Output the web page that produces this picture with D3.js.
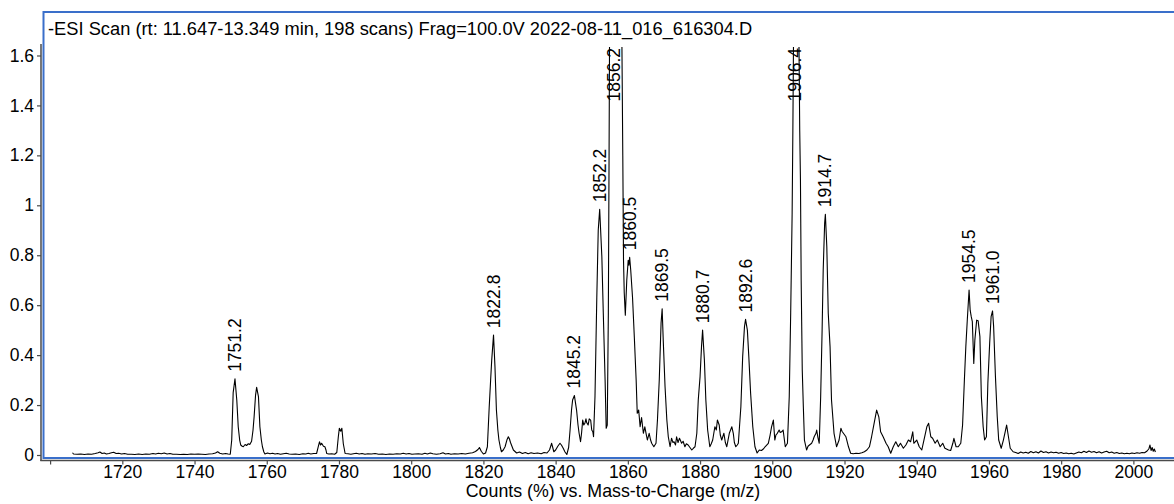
<!DOCTYPE html>
<html>
<head>
<meta charset="utf-8">
<script src="https://cdn.jsdelivr.net/npm/d3@7"></script>
<style>
  html, body { margin: 0; padding: 0; background: #fff; }
  svg { display: block; }
  text { font-family: "Liberation Sans", Arial, sans-serif; fill: #000; }
</style>
</head>
<body>
<svg id="chart" width="1174" height="504"></svg>
<script>
// Spectrum segments: [m/z, counts (x10^6 %)]
const scanLow = [
  [1706.2,0.009],[1706.5,0.004],[1707.5,0.003],[1708.5,0.004],[1709.5,0.002],[1710.5,0.004],
  [1711.5,0.003],[1712.5,0.006],[1713.3,0.009],[1713.8,0.012],[1714.4,0.006],[1715.0,0.008],
  [1715.6,0.004],[1716.3,0.006],[1717.0,0.009],[1717.6,0.011],[1718.3,0.006],[1719.0,0.007],
  [1719.8,0.004],[1720.6,0.006],[1721.5,0.003],[1722.5,0.003],[1723.5,0.002],[1724.5,0.004],
  [1725.5,0.002],[1726.5,0.004],[1727.5,0.003],[1728.5,0.006],[1729.2,0.004],[1730.0,0.007],
  [1730.8,0.005],[1731.6,0.008],[1732.4,0.004],[1733.2,0.006],[1734.0,0.003],[1735.0,0.003],
  [1736.0,0.002],[1737.0,0.003],[1738.0,0.002],[1739.0,0.004],[1740.0,0.003],[1741.0,0.004],
  [1742.0,0.003],[1743.0,0.002],[1744.0,0.004],[1745.0,0.005],[1745.8,0.008],[1746.4,0.013],
  [1747.0,0.007],[1747.8,0.004],[1748.6,0.006],[1749.3,0.004]
];
const scan1751 = [
  [1749.9,0.003],[1750.3,0.06],[1750.7,0.25],[1751.2,0.305],[1751.7,0.22],[1752.1,0.113],
  [1752.5,0.06],[1752.8,0.04],[1753.2,0.035],[1753.5,0.033],[1754.0,0.042],[1754.4,0.038],
  [1754.9,0.045],[1755.3,0.042],[1755.8,0.055],[1756.2,0.1],[1756.5,0.153],[1756.9,0.24],
  [1757.2,0.271],[1757.7,0.234],[1758.1,0.113],[1758.5,0.06],[1758.8,0.033],[1759.2,0.012],
  [1759.5,0.004],[1760.2,0.008],[1760.9,0.005],[1761.6,0.007],[1762.3,0.004],[1763.0,0.006],
  [1763.8,0.003],[1764.6,0.005],[1765.4,0.007],[1766.2,0.004],[1767.0,0.003],[1768.0,0.004],
  [1769.0,0.002],[1770.0,0.005],[1770.8,0.004],[1771.5,0.007],[1772.2,0.004],[1773.0,0.006]
];
const scan1775 = [
  [1773.8,0.006],[1774.2,0.03],[1774.6,0.053],[1774.9,0.04],[1775.2,0.047],[1775.7,0.035],
  [1776.1,0.033],[1776.4,0.02],[1776.6,0.006],[1777.2,0.004],[1778.0,0.005],[1778.8,0.003],
  [1779.4,0.01],[1779.8,0.07],[1780.1,0.107],[1780.5,0.095],[1780.8,0.107],[1781.2,0.045],
  [1781.7,0.006],[1782.5,0.005],[1783.3,0.003],[1784.0,0.005],[1784.8,0.007],[1785.6,0.004],
  [1786.4,0.006],[1787.2,0.003],[1788.0,0.005],[1789.0,0.004],[1790.0,0.006],[1791.0,0.003],
  [1792.0,0.004],[1793.0,0.002],[1794.0,0.004],[1795.0,0.003],[1796.0,0.005],[1797.0,0.004],
  [1797.8,0.007],[1798.6,0.004],[1799.4,0.006],[1800.2,0.003],[1801.0,0.004],[1802.0,0.005],
  [1803.0,0.003],[1803.8,0.007],[1804.5,0.004],[1805.3,0.008],[1806.0,0.005],[1807.0,0.003],
  [1808.0,0.005],[1808.8,0.009],[1809.5,0.004],[1810.3,0.006],[1811.0,0.003],[1812.0,0.005],
  [1813.0,0.004],[1814.0,0.006],[1815.0,0.004],[1816.0,0.007],[1817.0,0.009],[1817.8,0.014],
  [1818.5,0.022],[1818.9,0.03],[1819.4,0.015],[1820.0,0.004],[1820.6,0.008]
];
const scan1822 = [
  [1821.1,0.033],[1821.6,0.19],[1822.0,0.3],[1822.3,0.38],[1822.8,0.48],[1823.2,0.354],
  [1823.6,0.18],[1824.0,0.1],[1824.3,0.06],[1824.7,0.03],[1825.0,0.013],[1825.5,0.02],
  [1826.0,0.033],[1826.5,0.06],[1826.9,0.073],[1827.2,0.065],[1827.5,0.05],[1827.9,0.035],
  [1828.3,0.02],[1829.2,0.008],[1830.0,0.012],[1830.8,0.006],[1831.6,0.01],[1832.4,0.005],
  [1833.2,0.009],[1834.0,0.006],[1835.0,0.008],[1836.0,0.005],[1836.8,0.01],[1837.6,0.008],
  [1838.3,0.02],[1838.9,0.047],[1839.2,0.03],[1839.5,0.013],[1840.0,0.02],[1840.6,0.035],
  [1841.2,0.047],[1841.6,0.04],[1842.1,0.027],[1842.6,0.012],[1843.1,0.002]
];
const scan1845 = [
  [1843.6,0.03],[1844.0,0.1],[1844.4,0.18],[1844.7,0.22],[1845.2,0.238],[1845.8,0.18],
  [1846.2,0.12],[1846.5,0.087],[1846.9,0.053],[1847.2,0.09],[1847.5,0.14],[1847.8,0.12],
  [1848.1,0.127],[1848.4,0.145],[1848.6,0.13],[1849.0,0.12],[1849.3,0.145],[1849.7,0.14],
  [1850.0,0.1],[1850.3,0.093],[1850.5,0.073],[1850.9,0.234],[1851.4,0.63],[1851.8,0.9],
  [1852.2,0.984],[1852.8,0.794],[1853.2,0.568],[1853.7,0.3],[1854.0,0.107],[1854.3,0.12],
  [1854.6,0.57],[1854.8,1.2],[1855.0,1.9],[1855.6,2.1],[1856.2,2.25],[1856.9,2.1],
  [1857.6,1.95],[1858.3,1.75],[1858.6,1.2],[1858.8,0.78],[1859.0,0.65],[1859.3,0.56],
  [1859.7,0.7],[1860.1,0.78],[1860.3,0.76],[1860.5,0.792],[1860.8,0.74],[1861.3,0.63],
  [1861.8,0.47],[1862.3,0.3],[1862.6,0.167],[1863.0,0.18],[1863.4,0.113],[1863.8,0.15],
  [1864.3,0.087],[1864.7,0.113],[1865.0,0.09],[1865.4,0.06],[1865.9,0.087],[1866.3,0.06],
  [1866.6,0.047],[1867.2,0.033],[1867.8,0.047]
];
const scan1869 = [
  [1868.2,0.14],[1868.7,0.3],[1869.2,0.528],[1869.5,0.586],[1869.8,0.46],[1870.3,0.274],
  [1870.8,0.14],[1871.2,0.073],[1871.7,0.033],[1872.1,0.067],[1872.5,0.05],[1872.8,0.053],
  [1873.2,0.04],[1873.5,0.073],[1873.9,0.05],[1874.3,0.067],[1874.9,0.047],[1875.3,0.055],
  [1875.8,0.033],[1876.2,0.045],[1876.7,0.04],[1877.2,0.03],[1877.7,0.02],[1878.2,0.028],
  [1878.6,0.033],[1879.1,0.087],[1879.5,0.22],[1880.0,0.314],[1880.4,0.434],[1880.7,0.5],
  [1881.2,0.38],[1881.6,0.22],[1882.1,0.1],[1882.7,0.033],[1883.1,0.045],[1883.5,0.06],
  [1884.1,0.113],[1884.5,0.1],[1884.8,0.14],[1885.3,0.12],[1885.6,0.08],[1886.0,0.06],
  [1886.6,0.087],[1887.0,0.05],[1887.4,0.033],[1888.1,0.087],[1888.8,0.113],[1889.2,0.087],
  [1889.5,0.05],[1889.9,0.033],[1890.3,0.04],[1890.6,0.047],[1891.3,0.193],[1891.8,0.394],
  [1892.3,0.514],[1892.6,0.543],[1893.1,0.5],[1893.5,0.394],[1894.0,0.247],[1894.6,0.113],
  [1895.2,0.033],[1895.8,0.008],[1896.4,0.02],[1897.0,0.018],[1897.6,0.025],[1898.0,0.033]
];
const scan1906 = [
  [1898.9,0.047],[1899.4,0.08],[1899.8,0.113],[1900.3,0.14],[1900.7,0.06],[1901.0,0.08],
  [1901.4,0.087],[1901.9,0.1],[1902.2,0.09],[1902.6,0.093],[1903.0,0.1],[1903.6,0.033],
  [1904.2,0.047],[1904.7,0.234],[1905.1,0.57],[1905.5,0.97],[1905.7,1.3],[1906.0,1.9],
  [1906.4,2.35],[1906.9,2.1],[1907.3,1.8],[1907.6,1.3],[1907.8,1.1],[1908.0,0.7],
  [1908.3,0.34],[1908.6,0.193],[1908.9,0.06],[1909.5,0.02],[1909.9,0.035],[1910.3,0.04],
  [1910.9,0.047],[1911.3,0.06],[1911.6,0.073],[1912.1,0.087],[1912.3,0.1],[1912.6,0.073],
  [1913.0,0.047],[1913.4,0.234],[1913.8,0.5],[1914.1,0.74],[1914.5,0.928],[1914.7,0.964],
  [1915.1,0.834],[1915.5,0.568],[1916.0,0.434],[1916.4,0.22],[1917.1,0.087],[1917.8,0.033],
  [1918.5,0.06],[1919.0,0.107],[1919.3,0.095],[1919.7,0.087],[1920.4,0.073],[1921.1,0.033],
  [1921.7,0.007],[1922.4,0.005],[1923.2,0.007],[1924.0,0.006],[1924.8,0.009],[1925.5,0.013],
  [1926.2,0.02],[1926.9,0.033]
];
const scan1929 = [
  [1927.5,0.073],[1928.2,0.127],[1928.9,0.18],[1929.5,0.153],[1930.0,0.093],[1930.7,0.073],
  [1931.1,0.06],[1931.5,0.047],[1932.1,0.033],[1932.8,0.007],[1933.5,0.033],[1934.2,0.053],
  [1934.9,0.033],[1935.5,0.047],[1936.3,0.027],[1937.0,0.04],[1937.7,0.06],[1938.3,0.053],
  [1938.9,0.093],[1939.2,0.047],[1940.0,0.06],[1940.7,0.033],[1941.4,0.02],[1942.0,0.06],
  [1942.8,0.113],[1943.3,0.127],[1943.9,0.073],[1944.4,0.067],[1945.1,0.047],[1945.7,0.06],
  [1946.5,0.033],[1947.2,0.047],[1947.8,0.027],[1948.8,0.02],[1949.4,0.018],[1950.0,0.047],
  [1950.3,0.067],[1950.9,0.033],[1951.5,0.033],[1952.2,0.047]
];
const scan1954 = [
  [1952.7,0.12],[1953.2,0.3],[1953.6,0.434],[1954.0,0.54],[1954.5,0.661],[1954.8,0.58],
  [1955.1,0.554],[1955.4,0.534],[1955.8,0.367],[1956.1,0.46],[1956.6,0.54],[1957.0,0.538],
  [1957.5,0.474],[1957.9,0.234],[1958.4,0.113],[1958.8,0.06],[1959.3,0.073],[1959.7,0.287],
  [1960.2,0.447],[1960.6,0.554],[1961.0,0.577],[1961.3,0.514],[1961.8,0.314],[1962.3,0.153],
  [1962.7,0.06],[1963.4,0.027],[1964.0,0.06],[1964.6,0.1],[1964.9,0.12],[1965.4,0.073],
  [1965.9,0.027],[1966.7,0.013]
];
const scanHigh = [
  [1967.4,0.01],[1968.1,0.006],[1968.8,0.012],[1969.5,0.008],[1970.2,0.011],[1970.9,0.007],
  [1971.6,0.014],[1972.3,0.009],[1973.0,0.013],[1973.7,0.008],[1974.4,0.016],[1975.1,0.01],
  [1975.8,0.013],[1976.5,0.008],[1977.2,0.012],[1977.9,0.009],[1978.6,0.011],[1979.3,0.007],
  [1980.0,0.01],[1980.7,0.006],[1981.4,0.008],[1982.1,0.005],[1982.8,0.007],[1983.5,0.004],
  [1984.2,0.008],[1984.9,0.012],[1985.6,0.009],[1986.3,0.015],[1987.0,0.01],[1987.7,0.016],
  [1988.4,0.011],[1989.1,0.014],[1989.8,0.009],[1990.5,0.013],[1991.2,0.008],[1991.9,0.012],
  [1992.6,0.015],[1993.3,0.009],[1994.0,0.012],[1994.7,0.007],[1995.4,0.01],[1996.1,0.006],
  [1996.8,0.008],[1997.5,0.005],[1998.2,0.007],[1998.9,0.005],[1999.6,0.008],[2000.3,0.006],
  [2001.0,0.009],[2001.7,0.007],[2002.4,0.01],[2003.1,0.009],[2003.8,0.016],[2004.3,0.025],
  [2004.6,0.04],[2004.9,0.018],[2005.2,0.03],[2005.5,0.015],[2005.8,0.024],[2006.1,0.012]
];

// Labelled peak centroids (m/z)
const peakLabels = ["1751.2","1822.8","1845.2","1852.2","1856.2","1860.5","1869.5",
                    "1880.7","1892.6","1906.4","1914.7","1954.5","1961.0"];

const xTickValues = [1700,1720,1740,1760,1780,1800,1820,1840,1860,1880,1900,1920,1940,1960,1980,2000];
const xTickLabels = ["","1720","1740","1760","1780","1800","1820","1840","1860","1880","1900","1920","1940","1960","1980","2000"];
const yTickValues = [0,0.2,0.4,0.6,0.8,1.0,1.2,1.4,1.6];
const yTickLabels = ["0","0.2","0.4","0.6","0.8","1","1.2","1.4","1.6"];

const titleText = "-ESI Scan (rt: 11.647-13.349 min, 198 scans) Frag=100.0V 2022-08-11_016_616304.D";
const xAxisTitle = "Counts (%) vs. Mass-to-Charge (m/z)";

const spectrum = [].concat(scanLow, scan1751, scan1775, scan1822, scan1845,
                           scan1869, scan1906, scan1929, scan1954, scanHigh);

const svg = d3.select("#chart");
const W = 1174;

// Visible m/z span and intensity span of the plotting area
const x = d3.scaleLinear().domain([1697.48, 2011.25]).range([41, W]);
const y = d3.scaleLinear().domain([0, 1.646]).range([455, 44]);

const frameColor = "#3a6fca";
const axisColor = "#4a4a4a";
const fontStack = "'Liberation Sans', Arial, sans-serif";

// Blue plot frame (open on the right)
svg.append("rect")
  .attr("x", 43.5).attr("y", 12)
  .attr("width", W + 20).attr("height", 446)
  .attr("fill", "none")
  .attr("stroke", frameColor)
  .attr("stroke-width", 2);

// Axes
const xAxis = d3.axisBottom(x)
  .tickValues(xTickValues)
  .tickFormat((d, i) => xTickLabels[i])
  .tickSizeInner(4).tickSizeOuter(0).tickPadding(3);
const gx = svg.append("g").attr("transform", "translate(0,460.5)").call(xAxis);
gx.select(".domain").remove();
gx.selectAll(".tick line").attr("stroke", axisColor).attr("stroke-width", 1.2);
gx.selectAll(".tick text")
  .attr("font-size", 17.5).attr("dy", null).attr("y", 17.5)
  .style("font-family", fontStack).attr("fill", "#1a1a1a");

const yAxis = d3.axisLeft(y)
  .tickValues(yTickValues)
  .tickFormat((d, i) => yTickLabels[i])
  .tickSizeInner(4).tickSizeOuter(0).tickPadding(3);
const gy = svg.append("g").attr("transform", "translate(41,0)").call(yAxis);
gy.select(".domain").remove();
gy.selectAll(".tick line").attr("stroke", axisColor).attr("stroke-width", 1.2);
gy.selectAll(".tick text")
  .attr("font-size", 17.5)
  .style("font-family", fontStack).attr("fill", "#1a1a1a");

// Axis lines
svg.append("line").attr("x1", 41).attr("x2", 41).attr("y1", 44).attr("y2", 461)
  .attr("stroke", axisColor).attr("stroke-width", 1.5);
svg.append("line").attr("x1", 40.3).attr("x2", W).attr("y1", 460.5).attr("y2", 460.5)
  .attr("stroke", axisColor).attr("stroke-width", 1.5);

// Title and axis caption
svg.append("text")
  .attr("x", 48).attr("y", 35)
  .attr("font-size", 18.3)
  .text(titleText);
svg.append("text")
  .attr("x", 613).attr("y", 497)
  .attr("text-anchor", "middle")
  .attr("font-size", 17.8)
  .text(xAxisTitle);

// Spectrum trace
svg.append("clipPath").attr("id", "plotClip")
  .append("rect").attr("x", 44).attr("y", 47).attr("width", W - 44).attr("height", 411);

const line = d3.line().x(d => x(d[0])).y(d => y(d[1]));
svg.append("path")
  .datum(spectrum)
  .attr("clip-path", "url(#plotClip)")
  .attr("fill", "none")
  .attr("stroke", "#000")
  .attr("stroke-width", 1.1)
  .attr("stroke-linejoin", "round")
  .attr("d", line);

// Peak labels, standing vertically above each labelled apex
const labelTop = 48;
const gap = 7;
const gl = svg.append("g");
peakLabels.forEach(lbl => {
  const mz = +lbl;
  const pt = spectrum.find(d => Math.abs(d[0] - mz) < 1e-6);
  const px = x(mz);
  const py = y(pt[1]);
  const t = gl.append("text")
    .attr("font-size", 17.5)
    .attr("dominant-baseline", "central")
    .text(lbl);
  const len = t.node().getComputedTextLength();
  let start = py - gap;
  if (start - len < labelTop) start = labelTop + len;
  t.attr("transform", `translate(${px},${start}) rotate(-90)`);
});
</script>
</body>
</html>
